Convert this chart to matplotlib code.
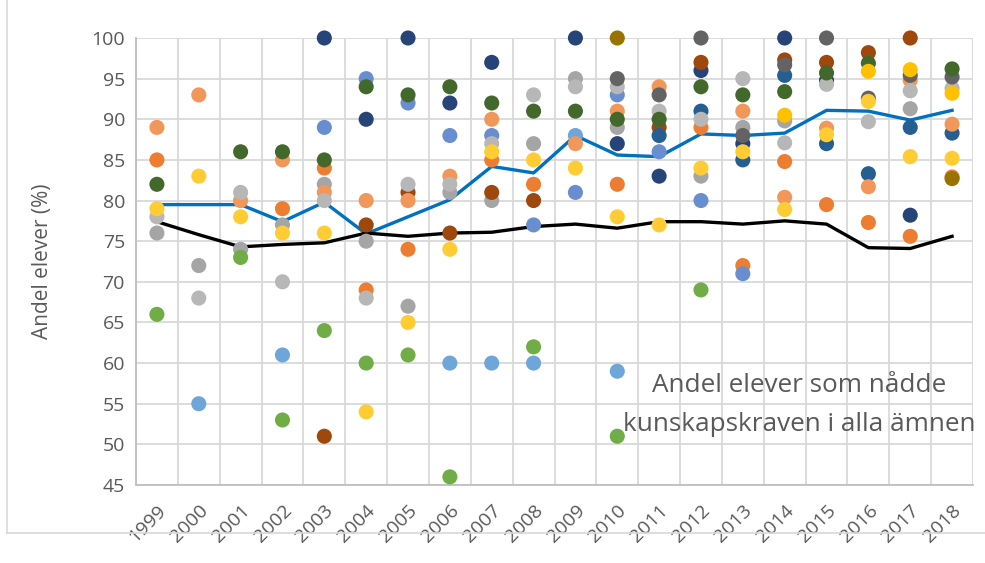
import matplotlib.pyplot as plt
from matplotlib.lines import Line2D
import numpy as np

plt.rcParams['font.family'] = ['Open Sans', 'DejaVu Sans']

# x axis categories
years = list(range(1999, 2019))
year_labels = [str(y) for y in years]

# average lines
blue_line = [79.5, 79.5, 79.5, 77.4, 79.8, 75.9, 78.0, 80.1, 84.2, 83.4,
             88.0, 85.6, 85.4, 88.2, 88.0, 88.3, 91.1, 91.0, 89.9, 91.1]
black_line = [77.4, 75.8, 74.3, 74.6, 74.8, 76.0, 75.6, 76.0, 76.1, 76.8,
              77.1, 76.6, 77.4, 77.4, 77.1, 77.5, 77.1, 74.2, 74.1, 75.6]

# scattered school values, grouped by colour
navy_x = [2003, 2004, 2005, 2006, 2007, 2009, 2010, 2011, 2012, 2013, 2014, 2015, 2017]
navy_y = [100, 90, 100, 92, 97, 100, 87, 83, 96, 87, 100, 94.8, 78.2]

darkblue_x = [2011, 2012, 2013, 2014, 2015, 2016, 2017, 2018]
darkblue_y = [88, 91, 85, 95.4, 87.0, 83.3, 89.0, 88.3]

blue_x = [2003, 2004, 2005, 2006, 2007, 2008, 2009, 2010, 2011, 2012, 2013]
blue_y = [89, 95, 92, 88, 88, 77, 81, 93, 86, 80, 71]

lightblue_x = [2000, 2002, 2006, 2007, 2008, 2009, 2010]
lightblue_y = [55, 61, 60, 60, 60, 88, 59]

orange_x = [1999, 2002, 2003, 2004, 2005, 2007, 2008, 2010, 2012, 2013, 2014, 2015, 2016, 2017, 2018]
orange_y = [85, 79, 84, 69, 74, 85, 82, 82, 89, 72, 84.8, 79.5, 77.3, 75.6, 82.9]

lightorange_x = [1999, 2000, 2001, 2002, 2003, 2004, 2005, 2006, 2007, 2009, 2010, 2011,
                 2013, 2014, 2015, 2016, 2017, 2018]
lightorange_y = [89, 93, 80, 85, 81, 80, 80, 83, 90, 87, 91, 94,
                 91, 80.4, 88.9, 81.7, 94.8, 89.4]

darkorange_x = [2003, 2004, 2005, 2006, 2007, 2008, 2011, 2012, 2014, 2015, 2016, 2017]
darkorange_y = [51, 77, 81, 76, 81, 80, 89, 97, 97.3, 97.0, 98.2, 100]

gray_x = [1999, 2000, 2001, 2002, 2003, 2004, 2005, 2006, 2007, 2008, 2009, 2010, 2012, 2013, 2014, 2017]
gray_y = [76, 72, 74, 77, 82, 75, 67, 81, 80, 87, 95, 89, 83, 89, 89.8, 91.3]

lightgray_x = years
lightgray_y = [78, 68, 81, 70, 80, 68, 82, 82, 87, 93, 94, 94, 91, 90, 95, 87.1, 94.3, 89.7, 93.5, 93.8]

darkgray_x = [2010, 2011, 2012, 2013, 2014, 2015, 2016, 2017, 2018]
darkgray_y = [95, 93, 100, 88, 96.7, 100, 92.6, 95.4, 95.2]

yellow_x = years
yellow_y = [79, 83, 78, 76, 76, 54, 65, 74, 86, 85, 84, 78, 77, 84, 86, 78.9, 88.1, 92.2, 85.4, 85.2]

gold_x = [2014, 2016, 2017, 2018]
gold_y = [90.5, 95.9, 96.1, 93.2]

darkgold_x = [2010, 2018]
darkgold_y = [100, 82.7]

green_x = [1999, 2001, 2002, 2003, 2004, 2005, 2006, 2008, 2010, 2012]
green_y = [66, 73, 53, 64, 60, 61, 46, 62, 51, 69]

darkgreen_x = [1999, 2001, 2002, 2003, 2004, 2005, 2006, 2007, 2008, 2009, 2010, 2011,
               2012, 2013, 2014, 2015, 2016, 2018]
darkgreen_y = [82, 86, 86, 85, 94, 93, 94, 92, 91, 91, 90, 90,
               94, 93, 93.4, 95.7, 96.9, 96.2]

groups = [
    (lightblue_x, lightblue_y, '#6FA6DA'),
    (orange_x, orange_y, '#ED7D31'),
    (gray_x, gray_y, '#A5A5A5'),
    (blue_x, blue_y, '#698ED0'),
    (green_x, green_y, '#70AD47'),
    (navy_x, navy_y, '#264478'),
    (darkorange_x, darkorange_y, '#9E480E'),
    (darkgold_x, darkgold_y, '#997300'),
    (darkblue_x, darkblue_y, '#255E91'),
    (lightorange_x, lightorange_y, '#F1975A'),
    (lightgray_x, lightgray_y, '#B7B7B7'),
    (darkgray_x, darkgray_y, '#636363'),
    (darkgreen_x, darkgreen_y, '#43682B'),
    (yellow_x, yellow_y, '#FFCD33'),
    (gold_x, gold_y, '#FFC000'),
]

fig = plt.figure(figsize=(9.85, 5.63), dpi=100)
ax = fig.add_axes([136 / 985, 1 - 485 / 563, (973 - 136) / 985, (485 - 38) / 563])

pos = np.arange(len(years))
ax.plot(pos, blue_line, color='#0070C0', lw=2.4, zorder=2)
ax.plot(pos, black_line, color='black', lw=2.4, zorder=2)

for xs, ys, col in groups:
    ax.scatter([y - years[0] for y in xs], ys, s=118, color=col,
               edgecolors='none', zorder=3, clip_on=False)

ax.set_xlim(-0.5, len(years) - 0.5)
ax.set_ylim(45, 100)
ax.set_yticks(np.arange(45, 101, 5))
ax.set_xticks(pos)
ax.set_xticklabels(year_labels, rotation=45, ha='right', rotation_mode='anchor')
ax.set_xticks(np.arange(-0.5, len(years), 1), minor=True)
ax.tick_params(which='both', length=0, labelsize=14, colors='#595959')
ax.tick_params(axis='x', pad=12)
ax.tick_params(axis='y', pad=8)
ax.grid(axis='y', which='major', color='#D9D9D9', lw=1.3, zorder=0)
ax.grid(axis='x', which='minor', color='#D9D9D9', lw=1.3, zorder=0)
ax.set_axisbelow(True)
for side in ['top', 'right']:
    ax.spines[side].set_visible(False)
for side in ['left', 'bottom']:
    ax.spines[side].set_color('#BFBFBF')
    ax.spines[side].set_linewidth(1.3)

ax.set_ylabel('Andel elever (%)', fontsize=15, color='#595959')
ax.yaxis.set_label_coords(-(136 - 53) / 837, 0.5)

fig.text(799 / 985, 1 - 405 / 563, 'Andel elever som nådde\nkunskapskraven i alla ämnen',
         ha='center', va='center', fontsize=18.8, color='#595959', linespacing=1.72)

# outer frame of the chart area
fig.add_artist(Line2D([7 / 985, 7 / 985], [1 - 533 / 563, 1], color='#D9D9D9', lw=1.2))
fig.add_artist(Line2D([7 / 985, 1], [1 - 533 / 563, 1 - 533 / 563], color='#D9D9D9', lw=1.2))

fig.savefig('out.png', dpi=100)
